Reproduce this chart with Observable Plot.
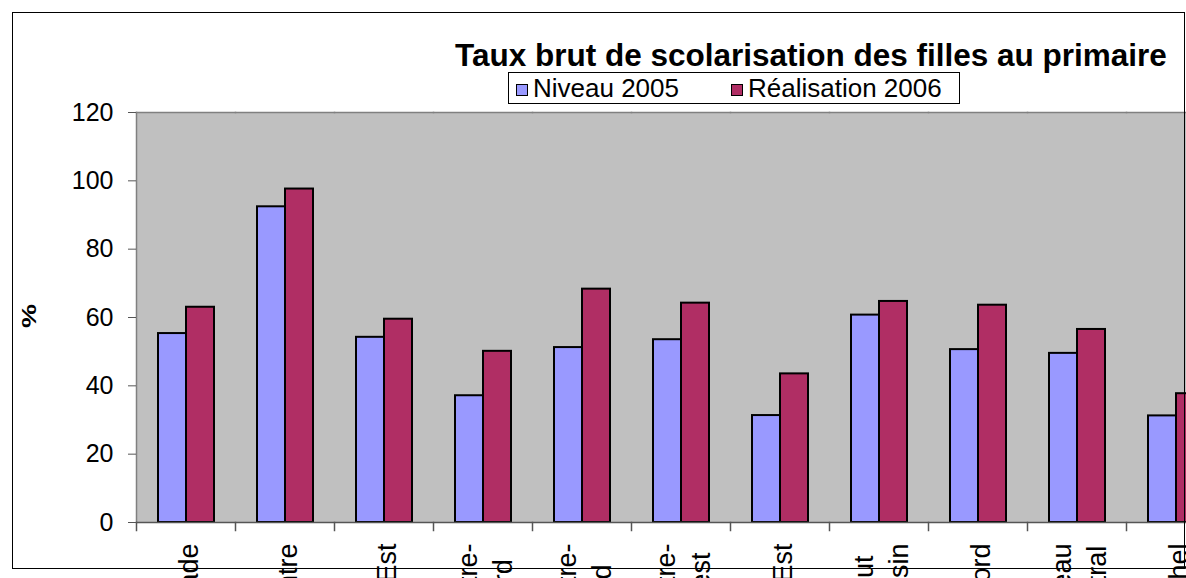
<!DOCTYPE html>
<html>
<head>
<meta charset="utf-8">
<script src="https://cdn.jsdelivr.net/npm/d3@7"></script>
<script src="https://cdn.jsdelivr.net/npm/@observablehq/plot@0.6"></script>
<style>
  html, body { margin: 0; padding: 0; background: #fff; overflow: hidden; }
  #wrap { position: relative; width: 1186px; height: 578px; overflow: hidden; font-family: "Liberation Sans", Arial, sans-serif; color: #000; }
  #chart { position: absolute; left: 0; top: 0; width: 1225px; height: 578px; }
  #chart svg { overflow: visible; max-width: none !important; width: 1225px !important; height: 578px !important; }
  #title { position: absolute; left: 455px; top: 40px; font-size: 31.5px; line-height: 31px; font-weight: bold; white-space: nowrap; }
  #legend { position: absolute; left: 508px; top: 72px; width: 452px; height: 32px; box-sizing: border-box; border: 1px solid #000; background: #fff; font-size: 26px; line-height: 30px; white-space: nowrap; }
  #legend .item { position: absolute; top: 0; }
  #legend .sw { display: inline-block; width: 10px; height: 10px; border: 1.5px solid #000; margin-right: 5px; vertical-align: 1px; }
  #ylabel { position: absolute; left: 29px; top: 316px; transform: translate(-50%, -50%) rotate(-90deg) scaleX(1.35); font-size: 20px; line-height: 20px; font-weight: bold; white-space: nowrap; }
  #frame { position: absolute; left: 12px; top: 12px; width: 1173px; height: 557px; box-sizing: border-box; border: 1px solid #000; pointer-events: none; }
</style>
</head>
<body>
<div id="wrap">
  <div id="chart"></div>
  <div id="title"></div>
  <div id="legend"></div>
  <div id="ylabel"></div>
  <div id="frame"></div>
</div>
<script>
// ---- data ----
const categories = ["Cascade", "Centre", "Centre-Est", "Centre-Nord", "Centre-Sud", "Centre-Ouest", "Est", "Haut Bassin", "Nord", "Plateau Central", "Sahel"];
const tickLabels = ["Cascade", "Centre", "Centre-Est", "Centre-\nNord", "Centre-\nSud", "Centre-\nOuest", "Est", "Haut\nBassin", "Nord", "Plateau\nCentral", "Sahel"];
const seriesNames = ["Niveau 2005", "Réalisation 2006"];
const niveau2005 = [55.3, 92.4, 54.2, 37.1, 51.2, 53.5, 31.3, 60.7, 50.6, 49.5, 31.2];
const realisation2006 = [63.0, 97.6, 59.5, 50.1, 68.3, 64.2, 43.5, 64.7, 63.6, 56.5, 37.7];
const yTicks = [0, 20, 40, 60, 80, 100, 120];
const seriesColors = ["#9999ff", "#b02e64"];
const titleText = "Taux brut de scolarisation des filles au primaire";
const yLabelText = "%";

// ---- table ----
const rows = categories.flatMap((c, i) => [
  {cat: c, series: seriesNames[0], value: niveau2005[i]},
  {cat: c, series: seriesNames[1], value: realisation2006[i]}
]);
const labelRows = categories.map((c, i) => ({cat: c, label: tickLabels[i]}));

const width = 1225, height = 578, marginTop = 112, marginBottom = 56, marginLeft = 136;
const plotH = height - marginTop - marginBottom;
const labelFont = 27, labelGap = 21;

// measure each label's longest line so lines can be centred on each other (Excel style)
const ctx = document.createElement("canvas").getContext("2d");
ctx.font = `${labelFont}px "Liberation Sans", Arial, sans-serif`;
const longest = (s) => Math.max(...s.split("\n").map((l) => ctx.measureText(l).width));

const labelMarks = labelRows.map((r) =>
  Plot.text([r], {
    fx: "cat", text: "label", frameAnchor: "bottom",
    dy: labelGap + longest(r.label) / 2,
    rotate: -90, textAnchor: "middle", lineAnchor: "middle", lineHeight: 1.33,
    fontSize: labelFont, fill: "#000"
  })
);

const chart = Plot.plot({
  width, height, marginTop, marginBottom, marginLeft, marginRight: 0,
  style: {fontFamily: "'Liberation Sans', Arial, sans-serif", fontSize: "25px", color: "#000", background: "transparent", overflow: "visible", maxWidth: "none"},
  fx: {domain: categories, padding: 0, axis: null},
  x: {domain: seriesNames, paddingInner: 0, paddingOuter: 0.707, axis: null},
  y: {domain: [0, 120]},
  color: {domain: seriesNames, range: seriesColors},
  marks: [
    Plot.frame({fill: "#c0c0c0", shapeRendering: "crispEdges"}),
    Plot.frame({anchor: "top", stroke: "#808080", strokeWidth: 1.5}),
    Plot.frame({anchor: "left", stroke: "#808080", strokeWidth: 1.5, facetAnchor: "left"}),
    Plot.axisY({ticks: yTicks, tickSize: 8, tickPadding: 15, stroke: "#555", fill: "#000", fontSize: 25, label: null, facetAnchor: "left"}),
    Plot.barY(rows, {fx: "cat", x: "series", y: "value", fill: "series", stroke: "#000", strokeWidth: 2}),
    Plot.ruleY([0], {stroke: "#555", strokeWidth: 1.5}),
    Plot.frame({anchor: "left", stroke: "#555", strokeWidth: 1.5, insetTop: plotH, insetBottom: -8}),
    ...labelMarks
  ]
});
document.getElementById("chart").appendChild(chart);

// ---- title, legend, y label ----
document.getElementById("title").textContent = titleText;
document.getElementById("ylabel").textContent = yLabelText;
const legend = document.getElementById("legend");
const legendLefts = [7, 222];
seriesNames.forEach((name, i) => {
  const item = document.createElement("span");
  item.className = "item";
  item.style.left = legendLefts[i] + "px";
  const sw = document.createElement("span");
  sw.className = "sw";
  sw.style.background = seriesColors[i];
  item.appendChild(sw);
  item.appendChild(document.createTextNode(name));
  legend.appendChild(item);
});
</script>
</body>
</html>
